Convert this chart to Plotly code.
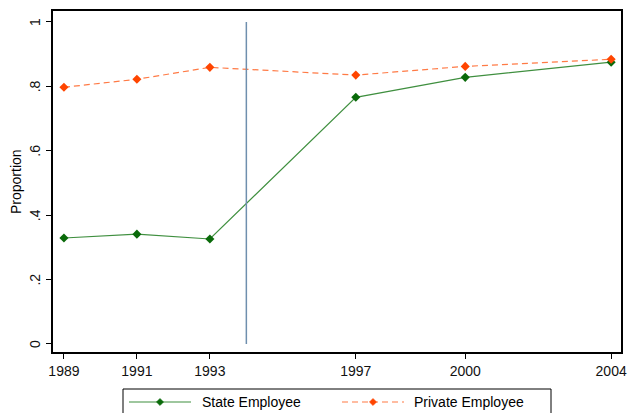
import plotly.graph_objects as go

years = [1989, 1991, 1993, 1997, 2000, 2004]
state_employee = [0.329, 0.341, 0.326, 0.766, 0.828, 0.875]
private_employee = [0.797, 0.822, 0.859, 0.835, 0.862, 0.884]
y_ticks = [0, 0.2, 0.4, 0.6, 0.8, 1]
y_tick_labels = ["0", ".2", ".4", ".6", ".8", "1"]
policy_year = 1994
series_names = ["State Employee", "Private Employee"]
y_title = "Proportion"

W, H = 629, 413
L, R, T, B = 53, 8, 11, 61
PW, PH = W - L - R, H - T - B

STATE_LINE, STATE_MARK = "#3f8f3f", "#0a6a0a"
PRIV_LINE, PRIV_MARK = "#ff7a45", "#ff4500"

def px2paper(px, py):
    return (px - L) / PW, (H - B - py) / PH

fig = go.Figure()
fig.add_trace(go.Scatter(
    x=years, y=state_employee, name=series_names[0], mode="lines+markers",
    line=dict(color=STATE_LINE, width=1.2),
    marker=dict(symbol="diamond", size=7, color=STATE_MARK),
))
fig.add_trace(go.Scatter(
    x=years, y=private_employee, name=series_names[1], mode="lines+markers",
    line=dict(color=PRIV_LINE, width=1.2, dash="6px,4px"),
    marker=dict(symbol="diamond", size=7, color=PRIV_MARK),
))
fig.add_shape(type="line", x0=policy_year, x1=policy_year, y0=0, y1=1,
              xref="x", yref="y", line=dict(color="#6f8fae", width=1.5))

# legend (drawn as layout shapes / annotations to match the Stata look)
bx0, by0 = px2paper(123, 389)
bx1, by1 = px2paper(551, 430)
fig.add_shape(type="rect", xref="paper", yref="paper", x0=bx0, y0=by1, x1=bx1, y1=by0,
              line=dict(color="black", width=1), fillcolor="white", layer="above")

def legend_item(x_start, x_end, x_mark, x_text, text, lcolor, mcolor, dash):
    ly = 402
    xa, ya = px2paper(x_start, ly)
    xb, _ = px2paper(x_end, ly)
    fig.add_shape(type="line", xref="paper", yref="paper", x0=xa, y0=ya, x1=xb, y1=ya,
                  line=dict(color=lcolor, width=1.2, dash=dash), layer="above")
    cx, cy = px2paper(x_mark, ly)
    dx, dy = 3.6 / PW, 3.6 / PH
    fig.add_shape(type="path", xref="paper", yref="paper",
                  path=f"M {cx-dx},{cy} L {cx},{cy+dy} L {cx+dx},{cy} L {cx},{cy-dy} Z",
                  fillcolor=mcolor, line=dict(color=mcolor, width=0.5), layer="above")
    tx, ty = px2paper(x_text, ly)
    fig.add_annotation(xref="paper", yref="paper", x=tx, y=ty, text=text, showarrow=False,
                       xanchor="left", yanchor="middle", font=dict(size=14, color="black"))

legend_item(129, 191, 160, 200, series_names[0], STATE_LINE, STATE_MARK, "solid")
legend_item(342, 404, 373, 412, series_names[1], PRIV_LINE, PRIV_MARK, "6px,4px")

# y-axis title
tx, ty = px2paper(16, 182)
fig.add_annotation(xref="paper", yref="paper", x=tx, y=ty, text=y_title, showarrow=False,
                   textangle=-90, xanchor="center", yanchor="middle",
                   font=dict(size=14, color="black"))

# y tick labels (rotated, Stata style)
lx, _ = px2paper(35, 0)
for v, lab in zip(y_ticks, y_tick_labels):
    fig.add_annotation(xref="paper", yref="y", x=lx, y=v, text=lab, showarrow=False,
                       textangle=-90, xanchor="center", yanchor="middle",
                       font=dict(size=14, color="#111111"))

fig.update_layout(
    width=W, height=H,
    margin=dict(l=L, r=R, t=T, b=B, autoexpand=False),
    paper_bgcolor="white", plot_bgcolor="white",
    font=dict(family="Liberation Sans, Arial, sans-serif", size=14, color="#111111"),
    showlegend=False,
)
fig.update_xaxes(
    range=[1988.7, 2004.27], tickvals=years, ticktext=[str(y) for y in years],
    showgrid=False, zeroline=False, showline=True, linecolor="black", linewidth=2,
    mirror=True, ticks="outside", ticklen=5, tickcolor="black", automargin=False,
    tickfont=dict(size=14),
)
fig.update_yaxes(
    range=[-0.025, 1.034], tickvals=y_ticks, showticklabels=False,
    showgrid=False, zeroline=False, showline=True, linecolor="black", linewidth=2,
    mirror=True, ticks="outside", ticklen=5, tickcolor="black", automargin=False,
)
fig.write_html("out.html", config={"displayModeBar": False},
               post_script="document.body.style.margin='0';")
